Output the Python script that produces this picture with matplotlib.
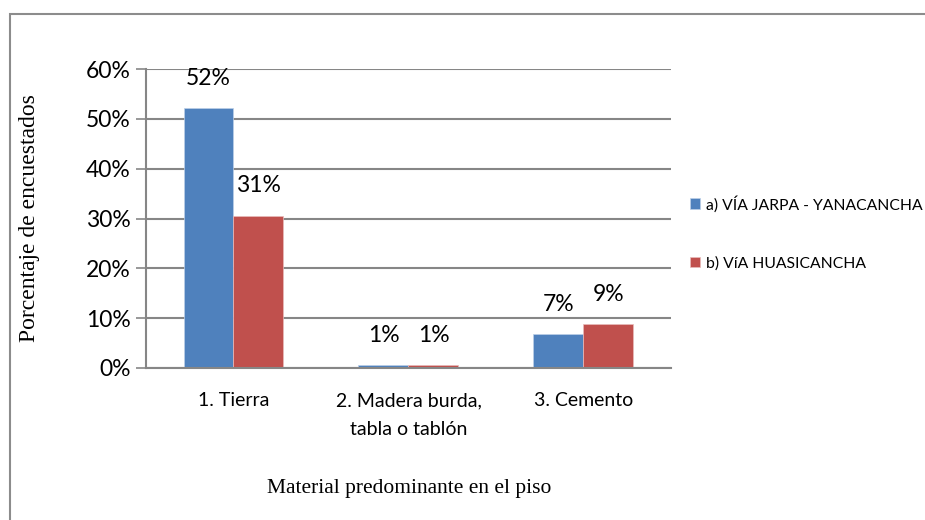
import numpy as np
import matplotlib.pyplot as plt
from matplotlib.patches import Rectangle

# Datos
categorias = ['1. Tierra', '2. Madera burda,\ntabla o tablón', '3. Cemento']
series = ['a) VÍA JARPA - YANACANCHA', 'b) VíA HUASICANCHA']
jarpa = [0.522, 0.006, 0.068]
huasicancha = [0.306, 0.006, 0.088]
etiquetas_jarpa = ['52%', '1%', '7%']
etiquetas_huasi = ['31%', '1%', '9%']
yticks = [0, 0.1, 0.2, 0.3, 0.4, 0.5, 0.6]
ytick_labels = ['0%', '10%', '20%', '30%', '40%', '50%', '60%']

azul = '#4F81BD'
rojo = '#C0504D'
gris = '#868686'

fig = plt.figure(figsize=(9.25, 5.2), dpi=100)
fig.patches.append(Rectangle((10 / 925, -0.1), 1.2, 1 - 14 / 520 + 0.1,
                             transform=fig.transFigure, fill=False,
                             edgecolor='#8c8c8c', linewidth=1.5))

ax = fig.add_axes([146 / 925, 1 - 368 / 520, 525 / 925, 299 / 520])

x = np.arange(len(categorias))
ancho = 50 / 175
b1 = ax.bar(x - ancho / 2, jarpa, ancho, color=azul, label=series[0],
            edgecolor='#bcd0e8', linewidth=0.5)
b2 = ax.bar(x + ancho / 2, huasicancha, ancho, color=rojo, label=series[1],
            edgecolor='#e8bcbb', linewidth=0.5)

fuente = 'Lato'
for rects, labels in ((b1, etiquetas_jarpa), (b2, etiquetas_huasi)):
    for r, lab in zip(rects, labels):
        ax.annotate(lab, (r.get_x() + r.get_width() / 2, r.get_height()),
                    xytext=(0, 21.5), textcoords='offset points',
                    ha='center', va='center', fontsize=16.5, family=fuente)

ax.set_xlim(-0.5, 2.5)
ax.set_ylim(0, 0.6)
ax.set_yticks(yticks)
ax.set_yticklabels(ytick_labels, fontsize=16.5, family=fuente)
ax.set_xticks(x)
ax.set_xticklabels(categorias, fontsize=14, family=fuente, linespacing=1.85)
ax.tick_params(axis='x', length=0, pad=17.5)
ax.tick_params(axis='y', length=7, width=1.2, color=gris, pad=4)
ax.yaxis.grid(True, color=gris, linewidth=1.5)
ax.set_axisbelow(True)
for s in ['top', 'right']:
    ax.spines[s].set_visible(False)
for s in ['left', 'bottom']:
    ax.spines[s].set_color(gris)
    ax.spines[s].set_linewidth(1.5)

fig.text(30 / 925, 1 - 218 / 520, 'Porcentaje de encuestados', rotation=90,
         ha='center', va='center', fontsize=17, family='Liberation Serif')
fig.text(409 / 925, 1 - 489 / 520, 'Material predominante en el piso',
         ha='center', va='center', fontsize=15.5, family='Liberation Serif')

fig.legend(handles=[b1, b2], labels=series, loc='center left',
           bbox_to_anchor=(690 / 925, 1 - 233 / 520), frameon=False,
           borderaxespad=0, borderpad=0,
           prop={'family': fuente, 'size': 11.3}, handlelength=0.65, handleheight=0.65,
           handletextpad=0.35, labelspacing=2.8)

plt.savefig('out.png', dpi=100)
